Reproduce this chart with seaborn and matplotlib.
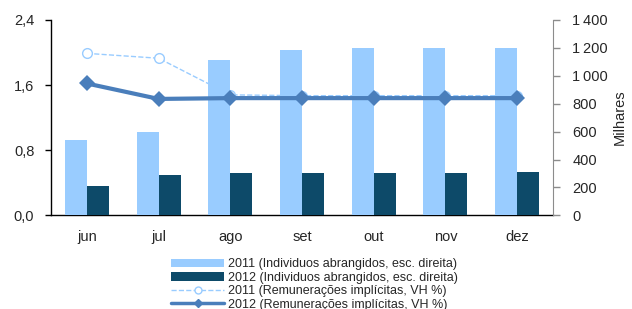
import matplotlib
matplotlib.use('Agg')
import matplotlib.pyplot as plt
import seaborn as sns
import pandas as pd
from matplotlib.lines import Line2D
from matplotlib.patches import Patch
from matplotlib.ticker import FuncFormatter, MultipleLocator

# data
months = ['jun', 'jul', 'ago', 'set', 'out', 'nov', 'dez']
ind_2011 = [539, 599, 1115, 1187, 1196, 1196, 1196]   # milhares, right axis
ind_2012 = [208, 292, 302, 302, 302, 302, 311]
rem_2011 = [1.99, 1.93, 1.48, 1.47, 1.47, 1.47, 1.47]  # VH %, left axis
rem_2012 = [1.62, 1.43, 1.44, 1.44, 1.44, 1.44, 1.44]

legend_labels = [
    '2011 (Individuos abrangidos, esc. direita)',
    '2012 (Individuos abrangidos, esc. direita)',
    '2011 (Remunerações implícitas, VH %)',
    '2012 (Remunerações implícitas, VH %)',
]

LIGHT = '#99ccff'
DARK = '#0d4a69'
LINE_DARK = '#4a7ebb'

sns.set_style('white')
plt.rcParams['font.family'] = ['Liberation Sans', 'DejaVu Sans']

fig = plt.figure(figsize=(6.32, 3.09), dpi=100)
ax = fig.add_axes([51 / 632, 1 - 215.3 / 309, 502 / 632, 195.3 / 309])
ax_bars = ax.twinx()
ax_top = ax.twinx()

# 2011 line sits behind the bars
sns.pointplot(x=months, y=rem_2011, ax=ax, color=LIGHT, linestyles='--',
              markers='o', errorbar=None, linewidth=1.0, markersize=7,
              markerfacecolor='white', markeredgewidth=1.0)

bars = pd.DataFrame({
    'mes': months * 2,
    'ano': ['2011'] * len(months) + ['2012'] * len(months),
    'valor': ind_2011 + ind_2012,
})
sns.barplot(data=bars, x='mes', y='valor', hue='ano', ax=ax_bars,
            palette={'2011': LIGHT, '2012': DARK}, saturation=1,
            width=0.614, legend=False, linewidth=0)

# 2012 line drawn on top of the bars
sns.pointplot(x=months, y=rem_2012, ax=ax_top, color=LINE_DARK, linestyles='-',
              markers='D', errorbar=None, linewidth=3, markersize=8,
              markeredgewidth=0)

ax.set_ylim(0, 2.4)
ax.yaxis.set_major_locator(MultipleLocator(0.8))
ax.yaxis.set_major_formatter(FuncFormatter(lambda v, p: f'{v:.1f}'.replace('.', ',')))
ax_top.set_ylim(0, 2.4)
ax_top.set_yticks([])
ax_bars.set_ylim(0, 1400)
ax_bars.yaxis.set_major_locator(MultipleLocator(200))
ax_bars.yaxis.set_major_formatter(
    FuncFormatter(lambda v, p: f'{int(v):,}'.replace(',', '\u2009')))
ax.set_xlim(-0.5, len(months) - 0.5)

for a in (ax, ax_bars, ax_top):
    a.set_xlabel('')
    a.set_ylabel('')
    a.spines['top'].set_visible(False)
for a in (ax_bars, ax_top):
    a.spines['left'].set_visible(False)
    a.spines['bottom'].set_visible(False)
ax.spines['right'].set_visible(False)
ax_top.spines['right'].set_visible(False)
ax.spines['left'].set_color('black')
ax.spines['bottom'].set_color('black')
ax.spines['left'].set_linewidth(1)
ax.spines['bottom'].set_linewidth(1)
ax_bars.spines['right'].set_color('#8c8c8c')

ax.tick_params(axis='y', left=True, length=4, width=1, color='black',
               pad=8, labelsize=10.5)
ax.tick_params(axis='x', bottom=False, pad=7, labelsize=10.5)
ax_bars.tick_params(axis='y', right=True, length=5, width=1, color='#8c8c8c',
                    pad=9, labelsize=10.5)
ax_bars.set_ylabel('Milhares', fontsize=10.5, labelpad=3)

handles = [
    Patch(facecolor=LIGHT, edgecolor='none'),
    Patch(facecolor=DARK, edgecolor='none'),
    Line2D([], [], color=LIGHT, linestyle='--', linewidth=1, marker='o',
           markersize=5, markerfacecolor='white'),
    Line2D([], [], color=LINE_DARK, linewidth=2.5, marker='D', markersize=4),
]
fig.legend(handles, legend_labels, loc='upper left',
           bbox_to_anchor=(165 / 632, 1 - 252 / 309), frameon=False,
           fontsize=9, borderpad=0, handlelength=4.2, handletextpad=0.35,
           labelspacing=0.12)

fig.savefig('out.png', dpi=100)
